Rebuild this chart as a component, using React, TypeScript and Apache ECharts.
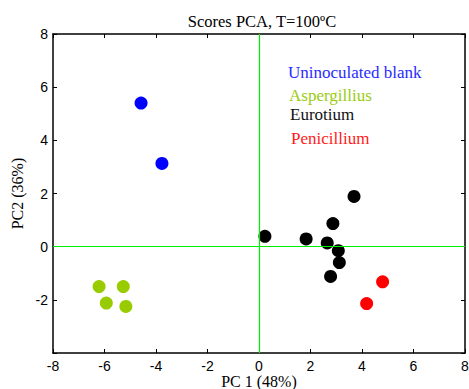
import React, { useEffect, useRef } from "react";
import * as echarts from "echarts";

const blankPts: [number, number][] = [[-4.58, 5.4], [-3.77, 3.13]];
const aspergPts: [number, number][] = [[-6.21, -1.5], [-5.27, -1.5], [-5.93, -2.12], [-5.17, -2.25]];
const eurotiumPts: [number, number][] = [
  [0.23, 0.39], [1.83, 0.29], [2.65, 0.14], [3.08, -0.15], [3.12, -0.6],
  [2.78, -1.12], [2.87, 0.87], [3.69, 1.89],
];
const penicPts: [number, number][] = [[4.8, -1.32], [4.18, -2.14]];

const groupNames = ["Uninoculated blank", "Aspergillius", "Eurotium", "Penicillium"];
const groupColors = ["#0000ff", "#99cc00", "#000000", "#ff0000"];
const textColors = ["#2a2aff", "#99cc11", "#111111", "#ff1a1a"];

const xMin = -8, xMax = 8, xStep = 2;
const yMin = -4, yMax = 8, yStep = 2;

export default function App() {
  const ref = useRef<HTMLDivElement>(null);
  useEffect(() => {
    const chart = echarts.init(ref.current!, null, { renderer: "svg" });
    const serif = "'Liberation Serif', 'Times New Roman', serif";
    const sans = "'Liberation Sans', Arial, sans-serif";
    const tickStyle = { show: true, inside: true, length: 4, lineStyle: { color: "#000", width: 1 } };
    const lineStyle = { show: true, lineStyle: { color: "#000", width: 1.5 } };
    const data = [blankPts, aspergPts, eurotiumPts, penicPts];
    const legendX = [288, 289, 290, 291];
    const legendY = [72, 95, 114.5, 138];
    const option: any = {
      animation: false,
      backgroundColor: "#fff",
      title: {
        text: "Scores PCA, T=100ºC",
        left: 257,
        textAlign: "center",
        top: 8,
        textStyle: { fontFamily: serif, fontSize: 16.5, fontWeight: "normal", color: "#000" },
      },
      grid: { left: 53, right: 4, top: 34, bottom: 36, outerBoundsMode: "none", containLabel: false },
      xAxis: [
        {
          type: "value", min: xMin, max: xMax, interval: xStep, position: "bottom",
          axisLine: { ...lineStyle, onZero: false }, axisTick: tickStyle, splitLine: { show: false },
          axisLabel: { fontFamily: sans, fontSize: 14, color: "#000", margin: 6 },
          name: "PC 1 (48%)", nameLocation: "middle", nameGap: 20, nameMoveOverlap: false,
          nameTextStyle: { fontFamily: serif, fontSize: 16, color: "#000", lineHeight: 16 },
        },
        {
          type: "value", min: xMin, max: xMax, interval: xStep, position: "top",
          axisLine: { ...lineStyle, onZero: false }, axisTick: tickStyle, splitLine: { show: false },
          axisLabel: { show: false },
        },
      ],
      yAxis: [
        {
          type: "value", min: yMin, max: yMax, interval: yStep, position: "left",
          axisLine: { ...lineStyle, onZero: false }, axisTick: tickStyle, splitLine: { show: false },
          axisLabel: {
            fontFamily: sans, fontSize: 14, color: "#000", margin: 5,
            formatter: (v: number) => (v === yMin ? "" : String(v)),
          },
          name: "PC2 (36%)", nameLocation: "middle", nameGap: 28, nameMoveOverlap: false,
          nameTextStyle: { fontFamily: serif, fontSize: 16, color: "#000", lineHeight: 16 },
        },
        {
          type: "value", min: yMin, max: yMax, interval: yStep, position: "right",
          axisLine: { ...lineStyle, onZero: false }, axisTick: tickStyle, splitLine: { show: false },
          axisLabel: { show: false },
        },
      ],
      series: [
        {
          type: "scatter",
          data: [],
          silent: true,
          markLine: {
            silent: true,
            symbol: "none",
            label: { show: false },
            lineStyle: { color: "#00ee00", width: 1.2, type: "solid" },
            data: [{ xAxis: 0 }, { yAxis: 0 }],
          },
        },
        ...data.map((pts, i) => ({
          type: "scatter",
          name: groupNames[i],
          data: pts,
          symbol: "circle",
          symbolSize: 13,
          itemStyle: { color: groupColors[i], opacity: 1 },
        })),
      ],
      graphic: groupNames.map((name, i) => ({
        type: "text",
        x: legendX[i],
        y: legendY[i],
        style: {
          text: name, fill: textColors[i], fontFamily: serif, fontSize: 17,
          verticalAlign: "middle", align: "left",
        },
      })),
    };
    chart.setOption(option);
    return () => chart.dispose();
  }, []);
  return <div ref={ref} style={{ width: 469, height: 389, position: "absolute", left: 0, top: 0 }} />;
}
